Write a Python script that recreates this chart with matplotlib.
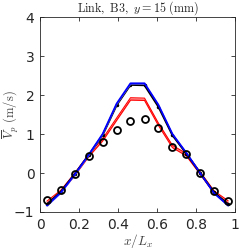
import numpy as np
import matplotlib
matplotlib.use('Agg')
import matplotlib.pyplot as plt

plt.rcParams['mathtext.fontset'] = 'cm'

# 데이터
x_pos = [0.036, 0.107, 0.179, 0.25, 0.321, 0.393, 0.464, 0.536, 0.607, 0.679, 0.75, 0.821, 0.893, 0.964]
exp_vals = [-0.69, -0.44, -0.03, 0.44, 0.80, 1.10, 1.33, 1.38, 1.15, 0.67, 0.49, 0.01, -0.47, -0.72]
black_vals = [-0.80, -0.48, -0.02, 0.46, 0.97, 1.74, 2.26, 2.25, 1.70, 0.97, 0.50, 0.0, -0.50, -0.80]
blue_vals = [-0.83, -0.50, -0.03, 0.47, 1.00, 1.78, 2.30, 2.30, 1.75, 1.00, 0.52, 0.0, -0.52, -0.83]
red_vals = [-0.75, -0.47, -0.03, 0.45, 0.85, 1.38, 1.90, 1.89, 1.25, 0.68, 0.47, 0.0, -0.49, -0.74]

fig = plt.figure(figsize=(2.4, 2.49), dpi=100)
ax = fig.add_axes([0.1667, 0.1486, 0.8125, 0.7831])

x = np.array(x_pos)
red = np.array(red_vals)
blue = np.array(blue_vals)

# 빨간선 (밴드 포함)
ax.fill_between(x, red - 0.03, red + 0.03, color='#ff9090', lw=0, zorder=2)
ax.plot(x, red - 0.03, color='red', lw=0.8, zorder=3)
ax.plot(x, red + 0.03, color='red', lw=0.8, zorder=3)

# 검은선
ax.plot(x, black_vals, color='black', lw=1.4, marker='.', ms=3, zorder=4)

# 파란선
ax.fill_between(x, blue - 0.02, blue + 0.02, color='#8080ff', lw=0, zorder=5)
ax.plot(x, blue, color='blue', lw=1.3, zorder=5)

# 실험값
ax.plot(x, exp_vals, 'o', mfc='none', mec='black', mew=1.3, ms=5, zorder=6)

ax.set_xlim(0, 1)
ax.set_ylim(-1, 4)
ax.set_xticks([0, 0.2, 0.4, 0.6, 0.8, 1])
ax.set_xticklabels(['0', '0.2', '0.4', '0.6', '0.8', '1'])
ax.set_yticks([-1, 0, 1, 2, 3, 4])
ax.tick_params(direction='in', top=True, right=True, length=3, width=0.6,
               labelsize=10, colors='#262626', pad=4)
for s in ax.spines.values():
    s.set_color('#262626')
    s.set_linewidth(0.6)

ax.set_title(r'$\mathrm{Link,\ B3,}\ y=15\ \mathrm{(mm)}$', fontsize=8.7,
             color='#262626', pad=4)
ax.set_xlabel(r'$x/L_x$', fontsize=9.5, color='#404040', labelpad=0)
ax.set_ylabel(r'$\overline{V}_p\ \mathrm{(m/s)}$', fontsize=9, color='#404040')
ax.yaxis.set_label_coords(-0.095, 0.5)

fig.savefig('out.png', dpi=100)
